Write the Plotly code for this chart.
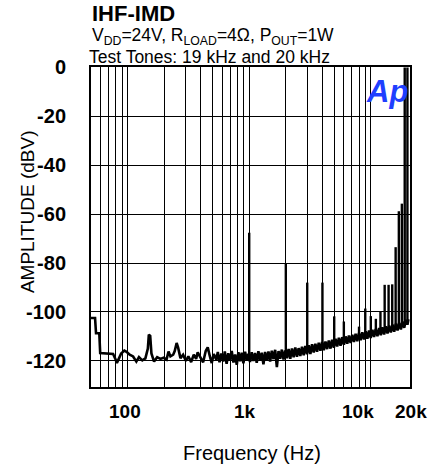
import math
import plotly.graph_objects as go

# ---------------- data ----------------
floor_freq = [
    50, 54, 55, 58.5, 59.5, 66, 76, 79, 81.6, 84, 88.5, 94, 98, 104, 111, 118, 124, 132, 140,
    146.7, 149.5, 153.4, 157, 165, 175, 186, 198, 209, 217, 225, 237, 244, 253, 260, 272, 286,
    301, 316, 333, 350, 366, 377, 397, 418, 439, 456, 474, 492, 511, 536,
    552, 570, 590, 611, 630, 652, 673, 695, 718, 742, 766, 790, 815, 842, 868, 896, 925, 955, 985,
    1015, 1048, 1082, 1117, 1153, 1190, 1228, 1268, 1309, 1351, 1395, 1440, 1486, 1534, 1584,
    1635, 1688, 1742, 1798, 1856, 1916, 1978, 2042, 2108, 2176, 2246, 2318, 2393, 2470, 2550,
    2632, 2717, 2805, 2895, 2988, 3085, 3184, 3287, 3393, 3502, 3615, 3732, 3852, 3976, 4104,
    4237, 4373, 4514, 4660, 4810, 4965, 5125, 5290, 5461, 5637, 5819, 6006, 6200, 6400, 6606,
    6819, 7039, 7266, 7500, 7742, 7992, 8249, 8515, 8790, 9073, 9366, 9668, 9980, 10302, 10634,
    10977, 11331, 11697, 12074, 12463, 12865, 13280, 13708, 14150, 14606, 15077, 15563, 16064,
    16582, 17117, 17669, 18238, 18826, 19433, 20000, 20400,
]
floor_db = [
    -102.5, -102.5, -108.7, -108.7, -116.8, -117.0, -117.2, -119.0, -120.9, -119.5, -117.0,
    -115.8, -116.3, -117.5, -118.2, -120.3, -118.5, -119.8, -119.0,
    -115.0, -109.3, -109.8, -117.0, -120.3, -118.5, -119.2, -118.7, -119.5, -116.2, -118.2,
    -117.5, -116.0, -112.7, -114.5, -118.9, -117.5,
    -120.0, -118.2, -120.5, -117.5, -119.2, -116.5, -118.9, -120.6, -116.0, -114.5, -118.0,
    -120.9, -117.2, -119.5,
    -116.4, -120.6, -117.0, -120.3, -116.2, -121.2, -116.9, -120.0, -116.0, -120.7, -117.4,
    -121.6, -116.5, -120.2, -116.7, -121.0, -116.3, -119.8, -117.1,
    -120.5, -116.5, -120.1, -116.8, -120.8, -116.1, -119.7, -116.7, -121.4, -116.4, -119.9,
    -116.2, -120.3, -115.9, -119.3,
    -115.5, -122.6, -116.0, -119.1, -115.4, -119.5, -115.8, -118.9, -115.1, -119.2, -114.9,
    -118.5, -114.5, -118.3, -114.8,
    -118.0, -114.2, -117.7, -113.9, -117.3, -113.6, -117.2, -113.2, -116.6, -113.0, -116.3,
    -112.6, -115.9, -112.3, -115.7,
    -112.1, -115.2, -111.7, -115.0, -111.4, -114.6, -111.0, -114.1, -110.6, -113.8, -110.3,
    -113.4, -110.0, -113.0, -109.6,
    -112.7, -109.3, -112.3, -108.9, -112.0, -108.6, -111.6, -108.3, -111.3, -107.9, -111.0,
    -107.6, -110.6, -107.3, -110.2,
    -107.0, -109.9, -106.6, -109.5, -106.3, -109.2, -105.9, -108.8, -105.6, -108.4, -105.2,
    -108.1, -104.8,
    -107.6, -104.4, -107.2, -103.9, -106.5, -103.2, -105.2, -103.0,
]

# discrete intermodulation products and the two test tones
spike_freq = [1000, 2000, 3000, 4000, 5000, 6000, 8000, 9000, 10000, 11000, 12000,
              13000, 14000, 15000, 16000, 17000, 18000, 19000, 20000]
spike_peak = [-67.6, -80.3, -88.0, -88.0, -101.8, -103.9, -106.0, -98.6, -101.7, -102.8,
              -99.8, -88.9, -88.9, -88.7, -73.5, -58.8, -55.7, 0.0, 0.0]
spike_base = [-118.5, -116.5, -115.0, -113.5, -112.3, -111.5, -110.0, -109.5, -108.8,
              -108.3, -107.8, -107.3, -107.0, -106.6, -106.2, -105.8, -105.2, -104.5, -104.0]

x_grid = [50, 60, 70, 80, 90, 100, 200, 300, 400, 500, 600, 700, 800, 900, 1000,
          2000, 3000, 4000, 5000, 6000, 7000, 8000, 9000, 10000]
x_label_vals = [100, 1000, 10000, 20000]
x_label_text = ["100", "1k", "10k", "20k"]
x_label_shift = [-2.5, -4, -13, 4]
y_ticks = [-120, -100, -80, -60, -40, -20, 0]

# ---------------- figure ----------------
spk_x, spk_y = [], []
for f, b, p in zip(spike_freq, spike_base, spike_peak):
    spk_x += [f, f, None]
    spk_y += [b, p, None]

fig = go.Figure()
fig.add_trace(go.Scatter(x=floor_freq, y=floor_db, mode="lines",
                         line=dict(color="black", width=2.6), showlegend=False,
                         hoverinfo="skip"))
fig.add_trace(go.Scatter(x=spk_x, y=spk_y, mode="lines",
                         line=dict(color="black", width=2.4), showlegend=False,
                         hoverinfo="skip"))

tick_font = dict(family="Arial, Liberation Sans, sans-serif", size=19, color="black",
                 weight="bold")

annotations = [
    dict(text="<b>IHF-IMD</b>", xref="paper", yref="paper", x=-0.003, y=1.166,
         xanchor="left", yanchor="middle", showarrow=False,
         font=dict(size=22, color="black")),
    dict(text="V<sub>DD</sub>=24V, R<sub>LOAD</sub>=4Ω, P<sub>OUT</sub>=1W",
         xref="paper", yref="paper", x=-0.003, y=1.094, xanchor="left",
         yanchor="middle", showarrow=False, font=dict(size=17.5, color="black")),
    dict(text="Test Tones: 19 kHz and 20 kHz", xref="paper", yref="paper",
         x=-0.012, y=1.030, xanchor="left", yanchor="middle", showarrow=False,
         font=dict(size=17.5, color="black")),
    dict(text="AMPLITUDE (dBV)", xref="paper", yref="paper", x=-0.197, y=0.547,
         xanchor="center", yanchor="middle", textangle=-90, showarrow=False,
         font=dict(size=19, color="black")),
    dict(text="Frequency (Hz)", xref="paper", yref="paper", x=0.505, y=-0.206,
         xanchor="center", yanchor="middle", showarrow=False,
         font=dict(size=20, color="black")),
    dict(text="<b><i>Ap</i></b>", xref="paper", yref="paper", x=1.0, y=0.985,
         xanchor="right", yanchor="top", showarrow=False,
         font=dict(family="Liberation Sans, Arial", size=31, color="#1f3fff")),
]
for v, t, s in zip(x_label_vals, x_label_text, x_label_shift):
    annotations.append(dict(text=t, xref="x", yref="paper", x=math.log10(v), y=-0.0766,
                            xanchor="center", yanchor="middle", xshift=s,
                            showarrow=False, font=tick_font))

fig.update_layout(
    width=443, height=468,
    margin=dict(l=91, r=33, t=67, b=81, pad=0, autoexpand=False),
    paper_bgcolor="white", plot_bgcolor="white",
    font=dict(family="Arial, Liberation Sans, sans-serif", color="black"),
    xaxis=dict(type="log", range=[math.log10(50), math.log10(21000)],
               tickmode="array", tickvals=x_grid, showticklabels=False,
               showgrid=True, gridcolor="black", gridwidth=1.1,
               showline=True, linecolor="black", linewidth=2, mirror=True,
               ticks="", zeroline=False, automargin=False),
    yaxis=dict(range=[-130.7, 0.2], tickmode="array", tickvals=y_ticks,
               ticktext=[str(v) for v in y_ticks],
               showgrid=True, gridcolor="black", gridwidth=1.1,
               showline=True, linecolor="black", linewidth=2, mirror=True,
               ticks="", tickfont=dict(tick_font, size=20), ticklabelstandoff=19,
               zeroline=False, automargin=False),
    annotations=annotations,
)

fig.write_html("out.html", config={"displayModeBar": False},
               post_script="document.body.style.margin='0';")
